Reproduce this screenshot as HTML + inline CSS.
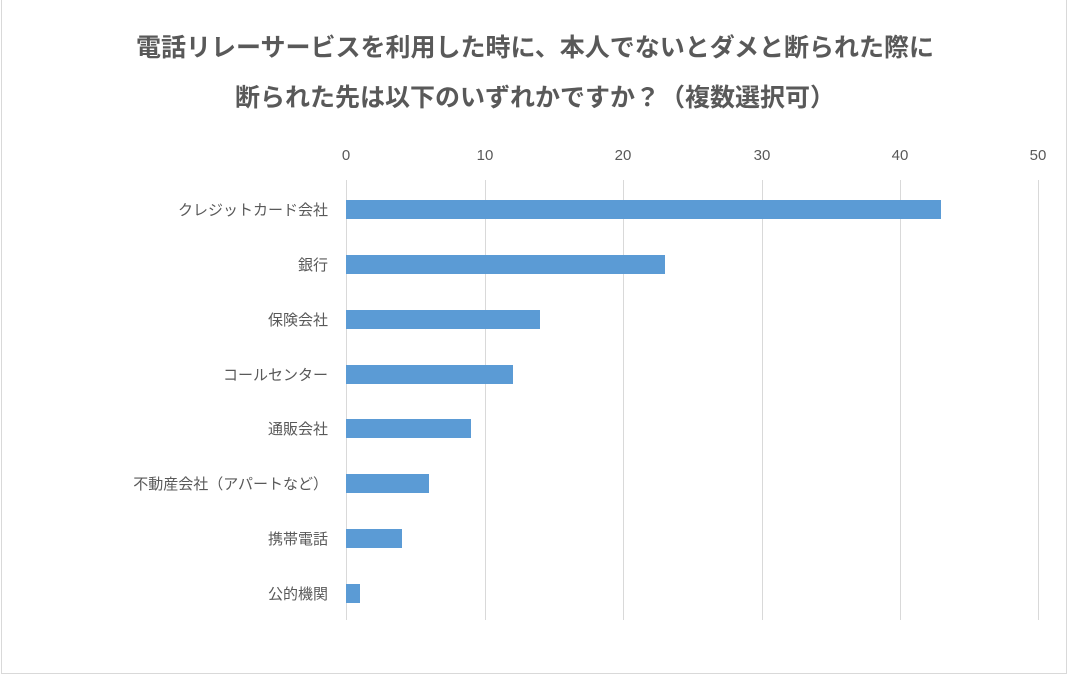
<!DOCTYPE html>
<html><head><meta charset="utf-8"><style>
body{margin:0;background:#fff;}
#c{position:relative;width:1070px;height:677px;overflow:hidden;font-family:"Liberation Sans","Noto Sans CJK JP",sans-serif;color:#595959;}
.frame{position:absolute;left:1px;top:-2px;width:1066px;height:676px;border:1.5px solid #d9d9d9;box-sizing:border-box;}
.t{position:absolute;left:0;width:1070px;text-align:center;font-size:25px;font-weight:bold;white-space:nowrap;line-height:30px;}
.g{position:absolute;top:180px;height:440px;width:1px;background:#d9d9d9;}
.tk{position:absolute;top:147px;width:40px;margin-left:-20px;text-align:center;font-size:15px;}
.lb{position:absolute;right:742px;font-size:15px;white-space:nowrap;line-height:20px;}
.b{position:absolute;left:346px;height:19px;background:#5b9bd5;}
</style></head><body><div id="c">
<div class="frame"></div>
<div class="t" style="top:33px">電話リレーサービスを利用した時に、本人でないとダメと断られた際に</div>
<div class="t" style="top:83px">断られた先は以下のいずれかですか？（複数選択可）</div>
<div class="g" style="left:346px"></div><div class="g" style="left:485px"></div><div class="g" style="left:623px"></div><div class="g" style="left:762px"></div><div class="g" style="left:900px"></div><div class="g" style="left:1038px"></div>
<div class="tk" style="left:346px">0</div><div class="tk" style="left:485px">10</div><div class="tk" style="left:623px">20</div><div class="tk" style="left:762px">30</div><div class="tk" style="left:900px">40</div><div class="tk" style="left:1038px">50</div>
<div class="lb" style="top:201px">クレジットカード会社</div><div class="b" style="top:200px;width:595px"></div>
<div class="lb" style="top:256px">銀行</div><div class="b" style="top:255px;width:319px"></div>
<div class="lb" style="top:311px">保険会社</div><div class="b" style="top:310px;width:194px"></div>
<div class="lb" style="top:366px">コールセンター</div><div class="b" style="top:365px;width:167px"></div>
<div class="lb" style="top:420px">通販会社</div><div class="b" style="top:419px;width:125px"></div>
<div class="lb" style="top:475px">不動産会社（アパートなど）</div><div class="b" style="top:474px;width:83px"></div>
<div class="lb" style="top:530px">携帯電話</div><div class="b" style="top:529px;width:56px"></div>
<div class="lb" style="top:585px">公的機関</div><div class="b" style="top:584px;width:14px"></div>
</div></body></html>
